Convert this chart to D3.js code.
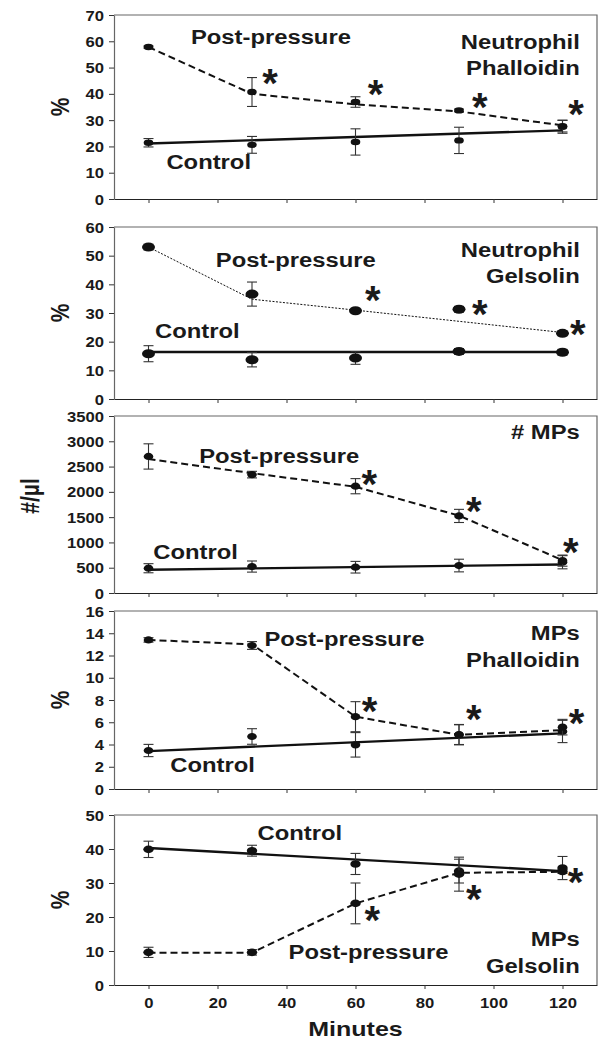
<!DOCTYPE html>
<html lang="en">
<head>
<meta charset="utf-8">
<title>Post-pressure vs Control</title>
<script src="https://d3js.org/d3.v7.min.js"></script>
<style>
  body { margin: 0; background: #fff; }
  text { font-family: "Liberation Sans", Arial, sans-serif; font-weight: bold; fill: #1a1a1a; }
</style>
</head>
<body>
<script>
// sampling times (minutes)
var minutes = [0, 30, 60, 90, 120];
var xTicks = [0, 20, 40, 60, 80, 100, 120];

// Panel 1 - Neutrophil Phalloidin (%)
var p1PostMean = [57.8, 40.7, 36.9, 33.7, 27.7];
var p1PostErr  = [0.4, 5.5, 2.0, 0.5, 2.2];
var p1PostLine = [57.8, 40.0, 36.0, 33.3, 28.0];
var p1CtrlMean = [21.4, 20.6, 21.7, 22.3, 27.5];
var p1CtrlErr  = [1.6, 3.2, 5.0, 5.0, 2.5];
var p1CtrlTrend = [21.1, 26.1];
var p1StarX = [35.2, 65.8, 96, 123.9];
var p1StarY = [46.4, 42.2, 37.2, 34.7];

// Panel 2 - Neutrophil Gelsolin (%)
var p2PostMean = [53.0, 36.6, 30.8, 31.3, 22.9];
var p2PostErr  = [1.0, 4.2, 0.5, 1.0, 0.8];
var p2PostLine = [53.0, 34.8, 31.0, 27.1, 23.2];
var p2CtrlMean = [15.8, 13.7, 14.3, 16.6, 16.3];
var p2CtrlErr  = [2.8, 2.5, 2.2, 1.0, 1.0];
var p2CtrlTrend = [16.4, 16.4];
var p2StarX = [65, 96, 124.4];
var p2StarY = [36.6, 31.7, 24.9];

// Panel 3 - # MPs (#/µl)
var p3PostMean = [2700, 2341, 2112, 1524, 640];
var p3PostErr  = [250, 65, 150, 130, 110];
var p3PostLine = [2650, 2370, 2100, 1530, 650];
var p3CtrlMean = [490, 523, 510, 543, 608];
var p3CtrlErr  = [90, 110, 115, 125, 130];
var p3CtrlTrend = [460, 565];
var p3StarX = [64, 94.3, 122.4];
var p3StarY = [2276, 1746, 929];

// Panel 4 - MPs Phalloidin (%)
var p4PostMean = [13.4, 12.9, 6.5, 4.9, 5.56];
var p4PostErr  = [0.2, 0.35, 1.35, 0.9, 0.7];
var p4PostLine = [13.4, 13.0, 6.5, 4.87, 5.3];
var p4CtrlMean = [3.46, 4.72, 3.97, 4.87, 5.17];
var p4CtrlErr  = [0.55, 0.7, 1.1, 0.9, 1.0];
var p4CtrlTrend = [3.4, 5.0];
var p4StarX = [64.1, 94.3, 124.1];
var p4StarY = [7.58, 6.83, 6.44];

// Panel 5 - MPs Gelsolin (%)
var p5PostMean = [9.6, 9.6, 24.0, 32.6, 33.4];
var p5PostErr  = [1.5, 0.8, 6.0, 5.0, 0.6];
var p5PostLine = [9.5, 9.5, 24.0, 33.0, 33.3];
var p5CtrlMean = [39.9, 39.5, 35.6, 33.5, 34.4];
var p5CtrlErr  = [2.4, 1.6, 3.1, 3.5, 3.4];
var p5CtrlTrend = [40.3, 33.5];
var p5StarX = [64.9, 94.3, 123.8];
var p5StarY = [21, 27, 32.1];

// layout
var w = 603, h = 1043;
var stretch = 1.19;   // the original figure is a bit wider than tall
var x = d3.scaleLinear().domain([-10, 130]).range([114, 597]);

var panels = [
  { top: 15,  bottom: 199, max: 70,   step: 10,  yTitle: "%",
    postMean: p1PostMean, postErr: p1PostErr, postLine: p1PostLine,
    ctrlMean: p1CtrlMean, ctrlErr: p1CtrlErr, ctrlTrend: p1CtrlTrend,
    starX: p1StarX, starY: p1StarY, dash: "7,4", dashW: 2, rx: 4.8, ry: 3.2,
    postLab: [12.3, 61.4], ctrlLab: [5.2, 13.9], title: ["Neutrophil", "Phalloidin"], titleY: [59.5, 49.6] },
  { top: 227, bottom: 399, max: 60,   step: 10,  yTitle: "%",
    postMean: p2PostMean, postErr: p2PostErr, postLine: p2PostLine,
    ctrlMean: p2CtrlMean, ctrlErr: p2CtrlErr, ctrlTrend: p2CtrlTrend,
    starX: p2StarX, starY: p2StarY, dash: "2,1.5", dashW: 1, rx: 6.5, ry: 4.5,
    postLab: [19.5, 48.6], ctrlLab: [1.9, 23.7], title: ["Neutrophil", "Gelsolin"], titleY: [51.9, 42.8] },
  { top: 416, bottom: 593, max: 3500, step: 500, yTitle: null,
    postMean: p3PostMean, postErr: p3PostErr, postLine: p3PostLine,
    ctrlMean: p3CtrlMean, ctrlErr: p3CtrlErr, ctrlTrend: p3CtrlTrend,
    starX: p3StarX, starY: p3StarY, dash: "7,4", dashW: 2, rx: 4.8, ry: 3.6,
    postLab: [14.7, 2714], ctrlLab: [1.4, 817], title: ["# MPs"], titleY: [3172] },
  { top: 611, bottom: 789, max: 16,   step: 2,   yTitle: "%",
    postMean: p4PostMean, postErr: p4PostErr, postLine: p4PostLine,
    ctrlMean: p4CtrlMean, ctrlErr: p4CtrlErr, ctrlTrend: p4CtrlTrend,
    starX: p4StarX, starY: p4StarY, dash: "7,4", dashW: 2, rx: 4.8, ry: 3.6,
    postLab: [33.6, 13.5], ctrlLab: [6.3, 2.17], title: ["MPs", "Phalloidin"], titleY: [14.0, 11.6] },
  { top: 815, bottom: 985, max: 50,   step: 10,  yTitle: "%",
    postMean: p5PostMean, postErr: p5PostErr, postLine: p5PostLine,
    ctrlMean: p5CtrlMean, ctrlErr: p5CtrlErr, ctrlTrend: p5CtrlTrend,
    starX: p5StarX, starY: p5StarY, dash: "7,4", dashW: 2, rx: 5.2, ry: 3.8,
    postLab: [40.6, 9.6], ctrlLab: [31.6, 44.6], title: ["MPs", "Gelsolin"], titleY: [13.6, 5.4] }
];

var svg = d3.select("body").append("svg")
  .attr("width", w)
  .attr("height", h);

// text helper: bold Arial-like, stretched horizontally like the source figure
function label(g, str, px, py, size, anchor) {
  return g.append("text")
    .attr("transform", "translate(" + px + "," + py + ") scale(" + stretch + ",1)")
    .attr("text-anchor", anchor || "start")
    .attr("dominant-baseline", "central")
    .style("font-size", size + "px")
    .text(str);
}

panels.forEach(function(p, k) {
  var y = d3.scaleLinear().domain([0, p.max]).range([p.bottom, p.top]);
  var g = svg.append("g");

  // frame (top + right)
  g.append("path")
    .attr("d", "M" + x.range()[0] + "," + p.top + "H" + x.range()[1] + "V" + p.bottom)
    .attr("fill", "none").attr("stroke", "#666").attr("stroke-width", 1.2);

  // y axis
  var ya = g.append("g")
    .attr("transform", "translate(" + x.range()[0] + ",0)")
    .call(d3.axisLeft(y)
      .tickValues(d3.range(0, p.max + p.step / 2, p.step))
      .tickFormat(d3.format("d"))
      .tickSize(5).tickSizeOuter(0));
  ya.select(".domain").attr("stroke", "#666").attr("stroke-width", 1.2);
  ya.selectAll(".tick line").attr("stroke", "#333");
  ya.selectAll(".tick text")
    .attr("x", null).attr("dy", null)
    .attr("transform", "translate(-10,0) scale(" + stretch + ",1)")
    .attr("dominant-baseline", "central")
    .style("font-size", "14px").style("font-family", "Liberation Sans, Arial, sans-serif")
    .style("font-weight", "bold").attr("fill", "#1a1a1a");

  // x axis
  var xa = g.append("g")
    .attr("transform", "translate(0," + p.bottom + ")")
    .call(d3.axisBottom(x).tickValues(xTicks).tickSize(4).tickSizeOuter(0));
  xa.select(".domain").attr("stroke", "#222").attr("stroke-width", 1.2);
  xa.selectAll(".tick line").attr("stroke", "#333");
  if (k < panels.length - 1) {
    xa.selectAll(".tick text").remove();
  } else {
    xa.selectAll(".tick text")
      .attr("y", null).attr("dy", null)
      .attr("transform", "translate(0,18) scale(" + stretch + ",1)")
      .attr("dominant-baseline", "central")
      .style("font-size", "14px").style("font-family", "Liberation Sans, Arial, sans-serif")
      .style("font-weight", "bold").attr("fill", "#1a1a1a");
  }

  // y title
  if (p.yTitle) {
    svg.append("text")
      .attr("transform", "translate(60," + ((p.top + p.bottom) / 2) + ") rotate(-90) scale(1," + stretch + ")")
      .attr("text-anchor", "middle").attr("dominant-baseline", "central")
      .style("font-size", "21px")
      .text(p.yTitle);
  }

  var line = d3.line().x(function(d) { return x(d[0]); }).y(function(d) { return y(d[1]); });

  // control trend line
  g.append("path")
    .attr("d", line([[minutes[0], p.ctrlTrend[0]], [minutes[minutes.length - 1], p.ctrlTrend[1]]]))
    .attr("fill", "none").attr("stroke", "#111").attr("stroke-width", 2.4);

  // post-pressure dashed line
  g.append("path")
    .attr("d", line(minutes.map(function(m, i) { return [m, p.postLine[i]]; })))
    .attr("fill", "none").attr("stroke", "#111")
    .attr("stroke-width", p.dashW).attr("stroke-dasharray", p.dash);

  // error bars + points for both series
  [[p.ctrlMean, p.ctrlErr], [p.postMean, p.postErr]].forEach(function(s) {
    var pts = minutes.map(function(m, i) { return { m: m, v: s[0][i], e: s[1][i] }; });
    var eb = g.append("g").selectAll("g").data(pts).enter().append("g")
      .attr("stroke", "#333").attr("stroke-width", 1.1);
    eb.append("line")
      .attr("x1", function(d) { return x(d.m); }).attr("x2", function(d) { return x(d.m); })
      .attr("y1", function(d) { return y(d.v - d.e); }).attr("y2", function(d) { return y(d.v + d.e); });
    eb.append("line")
      .attr("x1", function(d) { return x(d.m) - 5; }).attr("x2", function(d) { return x(d.m) + 5; })
      .attr("y1", function(d) { return y(d.v + d.e); }).attr("y2", function(d) { return y(d.v + d.e); });
    eb.append("line")
      .attr("x1", function(d) { return x(d.m) - 5; }).attr("x2", function(d) { return x(d.m) + 5; })
      .attr("y1", function(d) { return y(d.v - d.e); }).attr("y2", function(d) { return y(d.v - d.e); });
    g.append("g").selectAll("ellipse").data(pts).enter().append("ellipse")
      .attr("cx", function(d) { return x(d.m); })
      .attr("cy", function(d) { return y(d.v); })
      .attr("rx", p.rx).attr("ry", p.ry)
      .attr("fill", "#111");
  });

  // significance asterisks
  p.starX.forEach(function(sx, i) {
    g.append("text")
      .attr("x", x(sx)).attr("y", y(p.starY[i]) + 20)
      .attr("text-anchor", "middle")
      .style("font-size", "40px")
      .text("*");
  });

  // series labels and panel title
  label(g, "Post-pressure", x(p.postLab[0]), y(p.postLab[1]), 20);
  label(g, "Control", x(p.ctrlLab[0]), y(p.ctrlLab[1]), 20);
  p.title.forEach(function(t, i) {
    label(g, t, x(125), y(p.titleY[i]), 20, "end");
  });
});

// shared labels
svg.append("text")
  .attr("transform", "translate(30,496) rotate(-90) scale(1," + stretch + ")")
  .attr("text-anchor", "middle").attr("dominant-baseline", "central")
  .style("font-size", "21px")
  .text("#/µl");

label(svg, "Minutes", x(60), 1029, 21, "middle");
</script>
</body>
</html>
